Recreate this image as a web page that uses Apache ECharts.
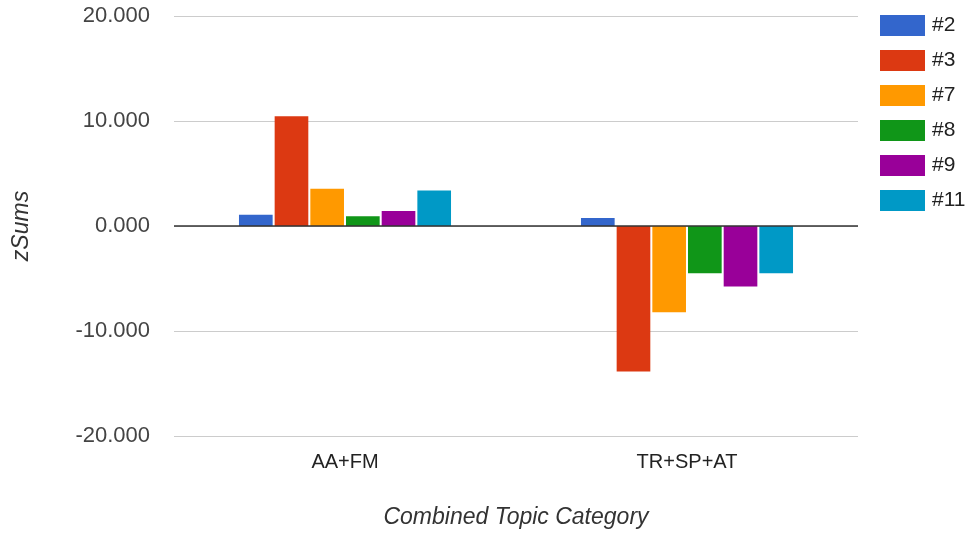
<!DOCTYPE html>
<html>
<head>
<meta charset="utf-8">
<script src="https://cdn.jsdelivr.net/npm/echarts@6/dist/echarts.min.js"></script>
<style>
  html, body { margin: 0; padding: 0; background: #fff; }
  #chart { width: 974px; height: 537px; }
</style>
</head>
<body>
<div id="chart"></div>
<script>
// Topic categories on the x axis
var categories = ['AA+FM', 'TR+SP+AT'];

// Series names and their zSums per category
var seriesNames = ['#2', '#3', '#7', '#8', '#9', '#11'];
var s2  = [1.08, 0.76];
var s3  = [10.45, -13.86];
var s7  = [3.54, -8.22];
var s8  = [0.92, -4.49];
var s9  = [1.43, -5.77];
var s11 = [3.37, -4.49];
var seriesValues = [s2, s3, s7, s8, s9, s11];

var colors = ['#3366cc', '#dc3912', '#ff9900', '#109618', '#990099', '#0099c6'];

var fontFam = '"Liberation Sans", Arial, sans-serif';

var chart = echarts.init(document.getElementById('chart'));

var series = seriesNames.map(function (name, i) {
  return {
    name: name,
    type: 'bar',
    data: seriesValues[i],
    barGap: '6%',
    barCategoryGap: '38%',
    itemStyle: { color: colors[i] }
  };
});

chart.setOption({
  animation: false,
  color: colors,
  grid: { left: 174, right: 116, top: 16, bottom: 101, containLabel: false },
  legend: {
    orient: 'vertical',
    left: 880,
    top: 15,
    padding: 0,
    itemWidth: 45,
    itemHeight: 21,
    itemGap: 14,
    icon: 'rect',
    textStyle: { color: '#222', fontSize: 21, fontFamily: fontFam, padding: [0, 0, 0, 2] },
    data: seriesNames
  },
  xAxis: {
    type: 'category',
    data: categories,
    name: 'Combined Topic Category',
    nameLocation: 'middle',
    nameGap: 70,
    nameTextStyle: { fontStyle: 'italic', fontSize: 23, color: '#333', fontFamily: fontFam },
    axisLine: { show: false },
    axisTick: { show: false },
    axisLabel: { color: '#222', fontSize: 20, margin: 16, fontFamily: fontFam }
  },
  yAxis: {
    type: 'value',
    min: -20,
    max: 20,
    interval: 10,
    name: 'zSums',
    nameLocation: 'middle',
    nameGap: 141,
    nameTextStyle: { fontStyle: 'italic', fontSize: 23, color: '#333', fontFamily: fontFam },
    axisLine: { show: false },
    axisTick: { show: false },
    axisLabel: {
      color: '#444',
      fontSize: 22,
      margin: 24,
      fontFamily: fontFam,
      formatter: function (v) { return v.toFixed(3); }
    },
    splitLine: { lineStyle: { color: '#cccccc', width: 1 } }
  },
  series: series.concat([{
    type: 'line',
    data: [],
    markLine: {
      silent: true,
      symbol: 'none',
      label: { show: false },
      lineStyle: { color: '#333', width: 1.5, type: 'solid' },
      data: [{ yAxis: 0 }]
    }
  }])
});
</script>
</body>
</html>
